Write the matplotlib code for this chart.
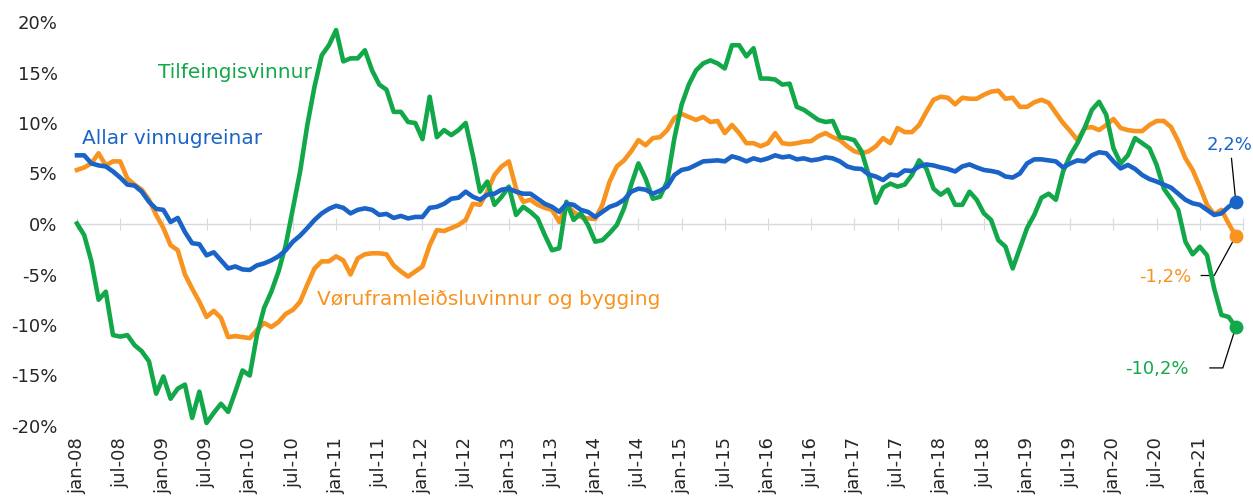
import numpy as np
import matplotlib
matplotlib.use('Agg')
import matplotlib.pyplot as plt

# manaðarlig virði jan-08 .. jun-21 (%)
allar = [6.8, 6.8, 6.0, 5.8, 5.7, 5.2, 4.6, 3.9, 3.8, 3.2,
         2.2, 1.5, 1.4, 0.2, 0.6, -0.8, -1.9, -2.0, -3.1, -2.8,
         -3.6, -4.4, -4.2, -4.5, -4.55, -4.1, -3.9, -3.6, -3.2, -2.6,
         -1.75, -1.15, -0.4, 0.4, 1.05, 1.5, 1.8, 1.6, 1.05, 1.4,
         1.55, 1.4, 0.9, 1.0, 0.6, 0.8, 0.55, 0.7, 0.7, 1.6,
         1.7, 2.0, 2.5, 2.6, 3.2, 2.7, 2.4, 2.9, 3.0, 3.4,
         3.5, 3.2, 3.0, 3.0, 2.5, 2.0, 1.7, 1.2, 2.0, 1.9,
         1.4, 1.2, 0.7, 1.2, 1.7, 1.95, 2.4, 3.2, 3.5, 3.4,
         3.0, 3.3, 3.7, 4.85, 5.35, 5.5, 5.85, 6.2, 6.25, 6.3,
         6.2, 6.7, 6.5, 6.2, 6.5, 6.3, 6.5, 6.8, 6.6, 6.7,
         6.4, 6.5, 6.3, 6.4, 6.6, 6.5, 6.2, 5.7, 5.5, 5.45,
         4.9, 4.7, 4.35, 4.9, 4.8, 5.3, 5.25, 5.7, 5.9, 5.8,
         5.6, 5.45, 5.2, 5.7, 5.9, 5.6, 5.35, 5.25, 5.1, 4.7,
         4.6, 5.0, 6.0, 6.4, 6.4, 6.3, 6.2, 5.6, 6.0, 6.3,
         6.2, 6.8, 7.1, 7.0, 6.2, 5.5, 5.85, 5.45, 4.85, 4.45,
         4.2, 3.9, 3.6, 3.0, 2.4, 2.05, 1.9, 1.4, 0.9, 1.05,
         1.7, 2.2]

voru = [5.35, 5.6, 6.0, 7.0, 5.8, 6.2, 6.2, 4.5, 3.9, 3.4,
        2.4, 0.9, -0.4, -2.1, -2.6, -5.0, -6.4, -7.7, -9.2, -8.6,
        -9.3, -11.2, -11.1, -11.2, -11.3, -10.5, -9.8, -10.2, -9.7, -8.9,
        -8.5, -7.7, -6.0, -4.4, -3.7, -3.7, -3.2, -3.6, -5.0, -3.4,
        -3.0, -2.9, -2.9, -3.0, -4.1, -4.7, -5.2, -4.7, -4.2, -2.1,
        -0.6, -0.7, -0.4, -0.1, 0.4, 2.0, 1.9, 3.2, 4.85, 5.7,
        6.2, 3.5, 2.2, 2.4, 1.9, 1.6, 1.4, 0.2, 1.9, 1.2,
        0.7, 0.55, 0.5, 1.9, 4.2, 5.7, 6.3, 7.2, 8.3, 7.8,
        8.5, 8.6, 9.3, 10.5, 10.9, 10.6, 10.3, 10.6, 10.1, 10.2,
        9.0, 9.8, 9.0, 8.0, 8.0, 7.7, 8.0, 9.0, 8.0, 7.9,
        8.0, 8.15, 8.2, 8.7, 9.0, 8.6, 8.3, 7.7, 7.2, 7.0,
        7.2, 7.7, 8.5, 8.0, 9.5, 9.1, 9.1, 9.8, 11.1, 12.3,
        12.6, 12.5, 11.85, 12.5, 12.4, 12.4, 12.8, 13.1, 13.2, 12.4,
        12.5, 11.6, 11.6, 12.05, 12.3, 12.0, 11.0, 10.0, 9.2, 8.3,
        9.5, 9.6, 9.3, 9.8, 10.4, 9.5, 9.3, 9.2, 9.2, 9.8,
        10.2, 10.2, 9.6, 8.2, 6.5, 5.35, 3.7, 1.9, 0.95, 1.4,
        0.05, -1.2]

tilfeingis = [0.05, -1.1, -3.7, -7.5, -6.7, -11.0, -11.15, -11.0, -12.0, -12.6,
              -13.6, -16.8, -15.1, -17.3, -16.3, -15.9, -19.2, -16.6, -19.7, -18.7,
              -17.8, -18.6, -16.6, -14.5, -15.0, -11.0, -8.3, -6.7, -4.7, -2.1,
              1.55, 5.2, 9.8, 13.6, 16.7, 17.7, 19.2, 16.1, 16.4, 16.4,
              17.2, 15.2, 13.8, 13.3, 11.1, 11.1, 10.1, 10.0, 8.4, 12.6,
              8.6, 9.3, 8.8, 9.3, 10.0, 6.8, 3.2, 4.2, 1.9, 2.7,
              3.7, 0.9, 1.7, 1.2, 0.55, -1.1, -2.6, -2.4, 2.2, 0.4,
              1.05, -0.1, -1.75, -1.6, -0.9, -0.1, 1.55, 3.9, 6.0, 4.5,
              2.5, 2.7, 4.2, 8.5, 11.8, 13.8, 15.2, 15.9, 16.2, 15.9,
              15.4, 17.7, 17.7, 16.6, 17.4, 14.4, 14.4, 14.3, 13.8, 13.9,
              11.6, 11.3, 10.8, 10.3, 10.1, 10.2, 8.6, 8.5, 8.3, 7.2,
              4.85, 2.1, 3.6, 4.0, 3.7, 3.9, 4.85, 6.3, 5.5, 3.5,
              2.9, 3.4, 1.9, 1.9, 3.2, 2.4, 1.05, 0.4, -1.6, -2.25,
              -4.4, -2.4, -0.4, 0.9, 2.6, 3.0, 2.4, 5.2, 6.8, 8.0,
              9.5, 11.3, 12.1, 10.8, 7.5, 6.0, 6.8, 8.5, 8.0, 7.5,
              5.85, 3.5, 2.5, 1.4, -1.75, -3.0, -2.25, -3.1, -6.4, -9.0,
              -9.2, -10.2]

tick_labels = []
for yr in range(8, 22):
    tick_labels.append('jan-%02d' % yr)
    if yr < 21:
        tick_labels.append('jul-%02d' % yr)

blue = '#1a64c8'
orange = '#f7931e'
green = '#12a84a'
txt = '#262626'

n = len(allar)
x = np.arange(n)

fig = plt.figure(figsize=(12.53, 4.97), dpi=100)
ax = fig.add_axes([77 / 1253, 71 / 497, 1166 / 1253, 404 / 497])

ax.plot(x, voru, color=orange, lw=3.3, solid_joinstyle='round', clip_on=False, zorder=3)
ax.plot(x, tilfeingis, color=green, lw=3.3, solid_joinstyle='round', clip_on=False, zorder=3)
ax.plot(x, allar, color=blue, lw=3.3, solid_joinstyle='round', clip_on=False, zorder=4)

# endapunktar
for serie, col in [(allar, blue), (voru, orange), (tilfeingis, green)]:
    ax.plot(x[-1], serie[-1], 'o', color=col, ms=9, clip_on=False, zorder=5)

ax.set_xlim(0, 162)
ax.set_ylim(-20, 20)
ax.set_yticks(range(-20, 21, 5))
ax.set_yticklabels(['%d%%' % v for v in range(-20, 21, 5)])
ax.tick_params(axis='y', length=0, pad=14, labelsize=13, labelcolor=txt)

# x-ásin við 0 við strikum
for s in ['top', 'right', 'left']:
    ax.spines[s].set_visible(False)
ax.spines['bottom'].set_position(('data', 0))
ax.spines['bottom'].set_color('#d9d9d9')
ax.spines['bottom'].set_linewidth(1)
ax.set_xticks(range(0, 163, 6))
ax.tick_params(axis='x', direction='inout', length=8.6, color='#d9d9d9',
               labelbottom=False)

# dagfesting niðast
sec = ax.secondary_xaxis('bottom')
sec.set_xticks(range(0, 157, 6))
sec.set_xticklabels(tick_labels, rotation=90, fontsize=13, color=txt)
sec.tick_params(length=0, pad=8)
sec.spines['bottom'].set_visible(False)

# navn á seriunum
ax.text(0.7, 8.5, 'Allar vinnugreinar', color=blue, fontsize=14.5, va='center', ha='left')
ax.text(11.3, 15.0, 'Tilfeingisvinnur', color=green, fontsize=14.5, va='center', ha='left')
ax.text(33.4, -7.5, 'Vøruframleiðsluvinnur og bygging', color=orange, fontsize=14.5,
        va='center', ha='left')

# seinastu virðini
last = x[-1]
ax.text(160.1, 7.8, '2,2%', color=blue, fontsize=13, ha='center', va='center')
ax.plot([160.4, last], [6.5, allar[-1]], color='black', lw=0.9, clip_on=False, zorder=2)

ax.text(154.8, -5.2, '-1,2%', color=orange, fontsize=13, ha='right', va='center')
ax.plot([156.2, 158.0, last], [-5.1, -5.1, voru[-1]], color='black', lw=0.9,
        clip_on=False, zorder=2)

ax.text(154.4, -14.4, '-10,2%', color=green, fontsize=13, ha='right', va='center')
ax.plot([157.4, 159.2, last], [-14.25, -14.25, tilfeingis[-1]], color='black', lw=0.9,
        clip_on=False, zorder=2)

fig.savefig('out.png', dpi=100)
